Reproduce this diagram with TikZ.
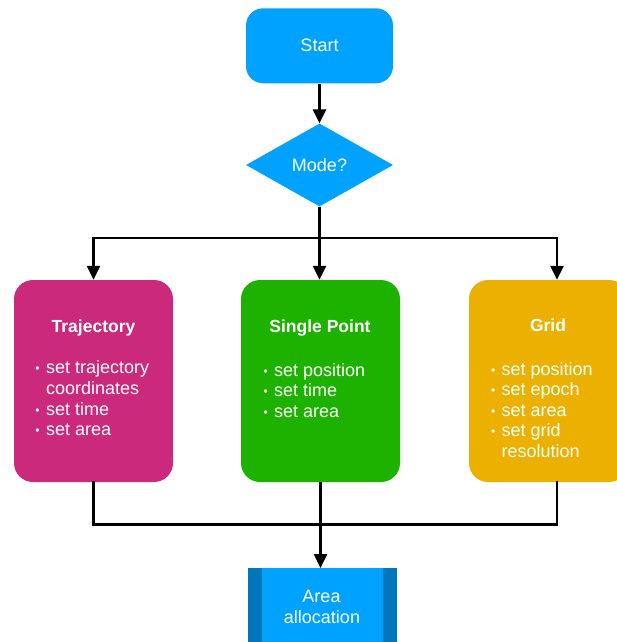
\documentclass[tikz,border=0pt]{standalone}
\usepackage{fontspec}
\setmainfont{Liberation Sans}
\usetikzlibrary{arrows.meta,shapes.geometric}
\definecolor{kblue}{HTML}{00A2FF}
\definecolor{kdblue}{HTML}{0076BA}
\definecolor{kmag}{HTML}{CB297B}
\definecolor{kgreen}{HTML}{1DB100}
\definecolor{kyellow}{HTML}{EBB000}
\newcommand{\bul}{\llap{\raisebox{1pt}{\fontsize{12}{12}\selectfont\textbullet}\hspace{6.5pt}}}
\begin{document}
\begin{tikzpicture}[x=1pt,y=-1pt,
  every node/.style={text=white, font=\fontsize{18}{20.7}\selectfont},
  arr/.style={line width=2.5pt, -{Triangle[length=14pt,width=13pt]}},
  conn/.style={line width=2.5pt},
  rbox/.style={rounded corners=19pt, minimum width=159pt, minimum height=202pt, inner sep=0pt},
  title/.style={anchor=base, inner sep=0pt, font=\fontsize{17.5}{20}\selectfont\bfseries},
  txt/.style={anchor=base west, inner sep=0pt}]
\useasboundingbox (0,0) rectangle (617,642);
\clip (0,0) rectangle (617,642);
% start and decision
\node[fill=kblue, rounded corners=17pt, minimum width=147pt, minimum height=75pt, inner sep=0pt] (start) at (319.5,45.8) {Start};
\node[fill=kblue, diamond, minimum width=147pt, minimum height=83pt, inner sep=0pt] (mode) at (319.5,165) {Mode?};
% three mode boxes
\node[rbox, fill=kmag] (traj) at (93.5,381) {};
\node[rbox, fill=kgreen] (single) at (320.5,381) {};
\node[rbox, fill=kyellow] (grid) at (548.5,381) {};
% area allocation
\node[fill=kblue, minimum width=149pt, minimum height=90pt, inner sep=0pt, anchor=north] (area) at (322.5,568) {};
\fill[kdblue] (area.north west) rectangle ([xshift=14pt]area.south west);
\fill[kdblue] (area.north east) rectangle ([xshift=-14pt]area.south east);
\node[anchor=base, inner sep=0pt] (areaA) at (321.5,602.7) {Area};
\node[anchor=base, inner sep=0pt] (areaB) at (322,623.3) {allocation};
% texts: trajectory
\node[title] (trajT) at (93.5,332.7) {Trajectory};
\node[txt] (traj1) at (46,373) {\bul set trajectory};
\node[txt] (traj2) at (46,394) {coordinates};
\node[txt] (traj3) at (46,415) {\bul set time};
\node[txt] (traj4) at (46,435.7) {\bul set area};
% texts: single point
\node[title] (singleT) at (320,332.7) {Single Point};
\node[txt] (single1) at (274,376) {\bul set position};
\node[txt] (single2) at (274,396.7) {\bul set time};
\node[txt] (single3) at (274,417.7) {\bul set area};
% texts: grid
\node[title] (gridT) at (548,331.7) {Grid};
\node[txt] (grid1) at (501.5,375) {\bul set position};
\node[txt] (grid2) at (501.5,395.7) {\bul set epoch};
\node[txt] (grid3) at (501.5,416) {\bul set area};
\node[txt] (grid4) at (501.5,436.7) {\bul set grid};
\node[txt] (grid5) at (501.5,457.3) {resolution};
% connectors
\coordinate (jl) at (93.5,238);
\coordinate (jc) at (319.5,238);
\coordinate (jr) at (557,238);
\coordinate (bl) at (93.5,524.5);
\coordinate (br) at (557,524.5);
\draw[arr] (start) -- (mode);
\draw[conn] (mode.south) -- (jc);
\draw[conn, line cap=rect] (jl) -- (jr);
\draw[arr] (jl) -- (jl |- traj.north);
\draw[arr] (jc) -- (jc |- single.north);
\draw[arr] (jr) -- (jr |- grid.north);
\draw[conn, line cap=rect] (traj.south) -- (bl) -- (br) -- (br |- grid.south);
\draw[arr] (single.south) -- (single.south |- area.north);
\end{tikzpicture}
\end{document}
